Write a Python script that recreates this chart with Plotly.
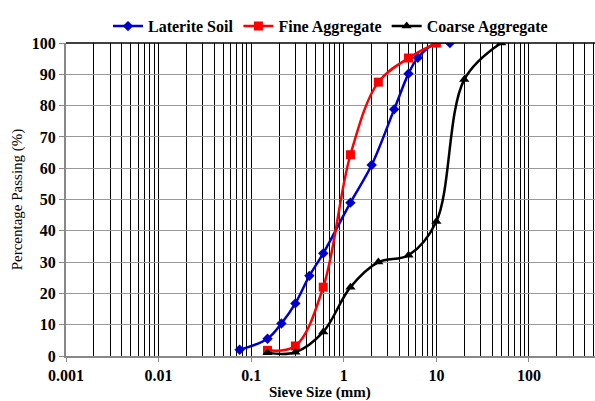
import plotly.graph_objects as go

# Sieve analysis results (sieve size in mm, percentage passing)
laterite_size = [0.075, 0.15, 0.212, 0.3, 0.425, 0.6, 1.18, 2.0, 3.5, 5.0, 6.3, 10.0, 14.0]
laterite_pass = [2.0, 5.5, 10.4, 16.8, 25.6, 32.8, 49.0, 61.0, 78.8, 90.2, 95.3, 100.0, 100.0]

fine_size = [0.15, 0.3, 0.6, 1.18, 2.36, 5.0, 10.0]
fine_pass = [1.8, 3.2, 22.0, 64.3, 87.5, 95.2, 100.0]

coarse_size = [0.15, 0.3, 0.6, 1.18, 2.36, 5.0, 10.0, 20.0, 50.0]
coarse_pass = [1.0, 1.2, 7.7, 22.0, 30.0, 32.2, 43.0, 88.3, 100.0]

x_major = [0.001, 0.01, 0.1, 1, 10, 100]
x_major_text = ["0.001", "0.01", "0.1", "1", "10", "100"]
x_minor = [m * d for d in [0.001, 0.01, 0.1, 1, 10, 100] for m in range(2, 10)]
y_ticks = list(range(0, 101, 10))

FONT = "Liberation Serif"

fig = go.Figure()
fig.add_trace(go.Scatter(
    x=laterite_size, y=laterite_pass, name="Laterite Soil",
    mode="lines+markers", line=dict(color="#0000CC", width=2.5, shape="spline"),
    marker=dict(symbol="diamond", size=8, color="#0000CC"),
))
fig.add_trace(go.Scatter(
    x=fine_size, y=fine_pass, name="Fine Aggregate",
    mode="lines+markers", line=dict(color="#FF0000", width=2.5, shape="spline"),
    marker=dict(symbol="square", size=9, color="#FF0000"),
))
fig.add_trace(go.Scatter(
    x=coarse_size, y=coarse_pass, name="Coarse Aggregate",
    mode="lines+markers", line=dict(color="#000000", width=2.5, shape="spline"),
    marker=dict(symbol="triangle-up", size=9, color="#000000"),
))

fig.update_xaxes(
    type="log", range=[-3, 2.713], automargin=False,
    tickmode="array", tickvals=x_major, ticktext=x_major_text,
    showgrid=True, gridcolor="#000000", gridwidth=1,
    minor=dict(tickmode="array", tickvals=x_minor, showgrid=True,
               gridcolor="#000000", gridwidth=1, ticks=""),
    ticks="outside", ticklen=4, tickcolor="#888888",
    showline=True, linecolor="#888888", linewidth=2,
    tickfont=dict(family=FONT, size=16, color="#000000", weight="bold"),
    zeroline=False,
)
fig.update_yaxes(
    range=[0, 100], tickmode="array", tickvals=y_ticks,
    showgrid=True, gridcolor="#999999", gridwidth=1,
    ticks="outside", ticklen=5, tickcolor="#888888",
    showline=True, linecolor="#888888", linewidth=2,
    tickfont=dict(family=FONT, size=16, color="#000000", weight="bold"),
    title=dict(text="Percentage Passing (%)", standoff=6,
               font=dict(family=FONT, size=15, color="#000000")),
    zeroline=False,
)

# X-axis title, placed below the tick labels
fig.add_annotation(text="Sieve Size (mm)", xref="paper", yref="paper",
                   x=0.48, y=-0.118, xanchor="center", yanchor="middle",
                   showarrow=False, borderpad=0,
                   font=dict(family=FONT, size=15, color="#000000", weight="bold"))

# Top border of the plot area
fig.add_shape(type="line", xref="paper", yref="paper", x0=0, x1=1, y0=1, y1=1,
              line=dict(color="#000000", width=1.5))

fig.update_layout(
    width=595, height=401,
    margin=dict(l=66, r=0, t=43, b=45),
    paper_bgcolor="white", plot_bgcolor="white",
    showlegend=True,
    legend=dict(orientation="h", x=0.5, xanchor="center", y=1.108, yanchor="top",
                font=dict(family=FONT, size=16, color="#000000", weight="bold"),
                itemwidth=30, tracegroupgap=0, bgcolor="rgba(0,0,0,0)"),
)

fig.write_html("out.html")
